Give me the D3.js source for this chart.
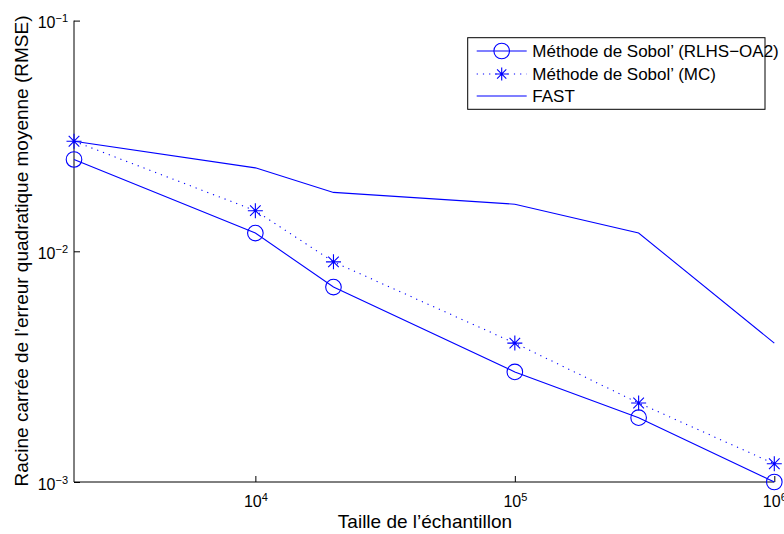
<!DOCTYPE html>
<html>
<head>
<meta charset="utf-8">
<script src="https://cdn.jsdelivr.net/npm/d3@7"></script>
<style>
  html, body { margin: 0; padding: 0; background: #fff; }
  svg { display: block; font-family: "Liberation Sans", Arial, Helvetica, sans-serif; }
</style>
</head>
<body>
<svg id="chart" width="784" height="534"></svg>
<script>
// Sample sizes (x) and RMSE values for each estimation method
const sampleSizes = [2000, 1e4, 2e4, 1e5, 3e5, 1e6];
const rmseSobolRLHS = [0.025, 0.012, 0.007, 0.003, 0.0019, 0.001];
const rmseSobolMC = [0.03, 0.015, 0.009, 0.004, 0.0022, 0.0012];
const rmseFAST = [0.03, 0.023, 0.018, 0.016, 0.012, 0.004];
const seriesNames = ["Méthode de Sobol’ (RLHS\u2212OA2)", "Méthode de Sobol’ (MC)", "FAST"];

// Decade tick exponents
const xTickExponents = [4, 5, 6];
const yTickExponents = [-3, -2, -1];

const xLabel = "Taille de l’échantillon";
const yLabel = "Racine carrée de l’erreur quadratique moyenne (RMSE)";

const blue = "#0000ff";
const svg = d3.select("#chart");

const x = d3.scaleLog().domain([2000, 1e6]).range([74, 774.3]);
const y = d3.scaleLog().domain([1e-3, 1e-1]).range([482, 20.6]);

// minor ticks: 2..9 of each decade inside the domain
function minorTicks(scale) {
  const [a, b] = scale.domain();
  const out = [];
  for (let e = Math.floor(Math.log10(a)); e <= Math.ceil(Math.log10(b)); e++) {
    for (let m = 2; m <= 9; m++) {
      const v = m * Math.pow(10, e);
      if (v > a * 1.0001 && v < b * 0.9999) out.push(v);
    }
  }
  return out;
}

// "10" with the exponent as a superscript
function supLabel(sel) {
  sel.each(function (d) {
    const t = d3.select(this);
    t.text(null);
    t.append("tspan").text("10");
    const e = Math.round(Math.log10(d));
    t.append("tspan")
      .attr("dy", "-6")
      .attr("font-size", "11px")
      .text(e < 0 ? "\u2212" + (-e) : String(e));
  });
}

// x axis
const xAxisG = svg.append("g").attr("transform", "translate(0,482)");
xAxisG.call(d3.axisBottom(x).tickValues(minorTicks(x)).tickSize(-3).tickFormat(""));
xAxisG.call(d3.axisBottom(x).tickValues(xTickExponents.map(e => Math.pow(10, e))).tickSize(-6).tickSizeOuter(0).tickFormat(d => d));
xAxisG.selectAll(".domain").attr("stroke", "#000").attr("stroke-width", 1).attr("d", `M${x.range()[0]},0H${x.range()[1]}`);
xAxisG.selectAll(".tick line").attr("stroke", "#000");
xAxisG.selectAll(".tick text")
  .attr("y", 25).attr("dy", null)
  .attr("font-size", "16px").attr("fill", "#000")
  .attr("font-family", "Liberation Sans, Arial, sans-serif")
  .call(supLabel);

// y axis
const yAxisG = svg.append("g").attr("transform", "translate(74,0)");
yAxisG.call(d3.axisLeft(y).tickValues(minorTicks(y)).tickSize(-3).tickFormat(""));
yAxisG.call(d3.axisLeft(y).tickValues(yTickExponents.map(e => Math.pow(10, e))).tickSize(-6).tickSizeOuter(0).tickFormat(d => d));
yAxisG.selectAll(".domain").attr("stroke", "#000").attr("stroke-width", 1).attr("d", `M0,${y.range()[0]}V${y.range()[1]}`);
yAxisG.selectAll(".tick line").attr("stroke", "#000");
yAxisG.selectAll(".tick text")
  .attr("x", -6).attr("dy", "7")
  .attr("font-size", "16px").attr("fill", "#000")
  .attr("text-anchor", "end")
  .attr("font-family", "Liberation Sans, Arial, sans-serif")
  .call(supLabel);

// axis titles
svg.append("text")
  .attr("x", 425).attr("y", 528)
  .attr("text-anchor", "middle")
  .attr("font-size", "19px")
  .text(xLabel);

svg.append("text")
  .attr("transform", "translate(28,251) rotate(-90)")
  .attr("text-anchor", "middle")
  .attr("font-size", "19px")
  .text(yLabel);

// data series
const seriesData = [rmseSobolRLHS, rmseSobolMC, rmseFAST].map(vals => sampleSizes.map((s, i) => [s, vals[i]]));
const line = d3.line().x(d => x(d[0])).y(d => y(d[1]));

const plot = svg.append("g");

function starPath(r) {
  const k = r * Math.SQRT1_2;
  return `M${-r},0H${r}M0,${-r}V${r}M${-k},${-k}L${k},${k}M${-k},${k}L${k},${-k}`;
}

// FAST: solid line, no markers
plot.append("path").datum(seriesData[2])
  .attr("d", line).attr("fill", "none").attr("stroke", blue).attr("stroke-width", 1.1);

// Sobol MC: dotted line with asterisks
plot.append("path").datum(seriesData[1])
  .attr("d", line).attr("fill", "none").attr("stroke", blue).attr("stroke-width", 1.1)
  .attr("stroke-dasharray", "1.2,5");
plot.selectAll(".star").data(seriesData[1]).join("path")
  .attr("class", "star")
  .attr("transform", d => `translate(${x(d[0])},${y(d[1])})`)
  .attr("d", starPath(7.5)).attr("fill", "none").attr("stroke", blue).attr("stroke-width", 1.1);

// Sobol RLHS-OA2: solid line with circles
plot.append("path").datum(seriesData[0])
  .attr("d", line).attr("fill", "none").attr("stroke", blue).attr("stroke-width", 1.1);
plot.selectAll(".circ").data(seriesData[0]).join("circle")
  .attr("class", "circ")
  .attr("cx", d => x(d[0])).attr("cy", d => y(d[1])).attr("r", 7.8)
  .attr("fill", "none").attr("stroke", blue).attr("stroke-width", 1.1);

// legend
const legend = svg.append("g");
legend.append("rect")
  .attr("x", 467.7).attr("y", 37.7).attr("width", 297.3).attr("height", 71.6)
  .attr("fill", "#fff").attr("stroke", "#000").attr("stroke-width", 1);

const rowsY = [51, 74, 96];
const styles = [
  { dash: null, marker: "circle" },
  { dash: "1.2,5", marker: "star" },
  { dash: null, marker: null }
];
seriesNames.forEach((name, i) => {
  const g = legend.append("g").attr("transform", `translate(0,${rowsY[i]})`);
  g.append("line").attr("x1", 476.7).attr("x2", 526.7).attr("y1", 0).attr("y2", 0)
    .attr("stroke", blue).attr("stroke-width", 1.1)
    .attr("stroke-dasharray", styles[i].dash);
  if (styles[i].marker === "circle") {
    g.append("circle").attr("cx", 501.7).attr("cy", 0).attr("r", 7.8)
      .attr("fill", "none").attr("stroke", blue).attr("stroke-width", 1.1);
  } else if (styles[i].marker === "star") {
    g.append("path").attr("transform", "translate(501.7,0)").attr("d", starPath(6.5))
      .attr("fill", "none").attr("stroke", blue).attr("stroke-width", 1.1);
  }
  g.append("text").attr("x", 532.3).attr("y", 6).attr("font-size", "17px").text(name);
});
</script>
</body>
</html>
